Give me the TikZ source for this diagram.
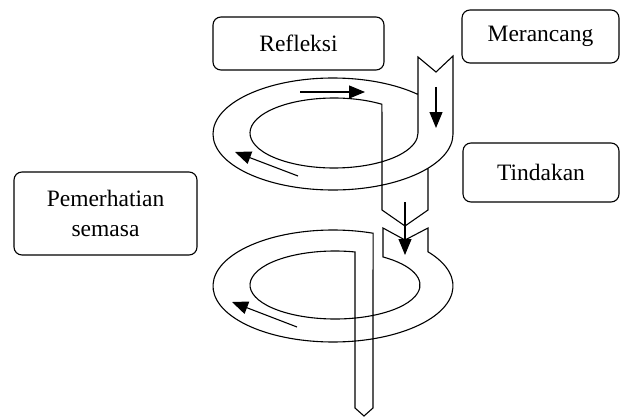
\documentclass[tikz,border=0pt]{standalone}
\usepackage{fontspec}
\setmainfont{Liberation Serif}
\usetikzlibrary{arrows.meta,calc}
\tikzstyle{box}=[draw,rounded corners=8pt,align=center,font=\fontsize{23.5}{30}\selectfont]
\tikzstyle{flow}=[-{Triangle[length=16pt,width=13pt]}]
\tikzstyle{every path}+=[line width=1.1pt]

\begin{document}
\begin{tikzpicture}[x=1pt,y=-1pt]
\useasboundingbox (0,0) rectangle (620,417);

% labels
\node[box,minimum width=171pt,minimum height=53pt] (refl) at (298.5,43.5) {Refleksi};
\node[box,minimum width=157pt,minimum height=53pt] (meran) at (540.5,36.5) {Merancang};
\node[box,minimum width=156pt,minimum height=59pt] (tind) at (541,172.5) {Tindakan};
\node[box,minimum width=183pt,minimum height=83pt] (pemer) at (105.5,213.5) {Pemerhatian\\semasa};

% upper loop
\coordinate (uo) at (333,134);
\coordinate (ui) at (334,133);
\draw (428,168.2) -- (428,210) -- (405,226) -- (382,210)
  -- ($(ui)+(-55.2:84 and 35)$) arc[start angle=-55.2, end angle=-360, x radius=84, y radius=35]
  -- (418,57) -- (436,72) -- (453,56) -- (453,134)
  arc[start angle=0, end angle=315, x radius=120, y radius=56];

% lower loop
\coordinate (lo) at (333,286);
\coordinate (li) at (335,285);
\draw (383,228) -- (405,240) -- (428,228)
  -- ($(lo)+(-37.7:120 and 56)$) arc[start angle=-37.7, end angle=289.5, x radius=120, y radius=56]
  -- (373,408) -- (364,416) -- (355,408)
  -- ($(li)+(283.6:85 and 34)$) arc[start angle=283.6, end angle=-55.6, x radius=85, y radius=34]
  -- cycle;

% arrows on the ribbon
\foreach \xa/\ya/\xb/\yb in {300/92/365/92, 298/176/235/152, 436/87/436/128, 405/202/405/255, 297/327/232/302}
  \draw[flow] (\xa,\ya) -- (\xb,\yb);
\end{tikzpicture}
\end{document}
